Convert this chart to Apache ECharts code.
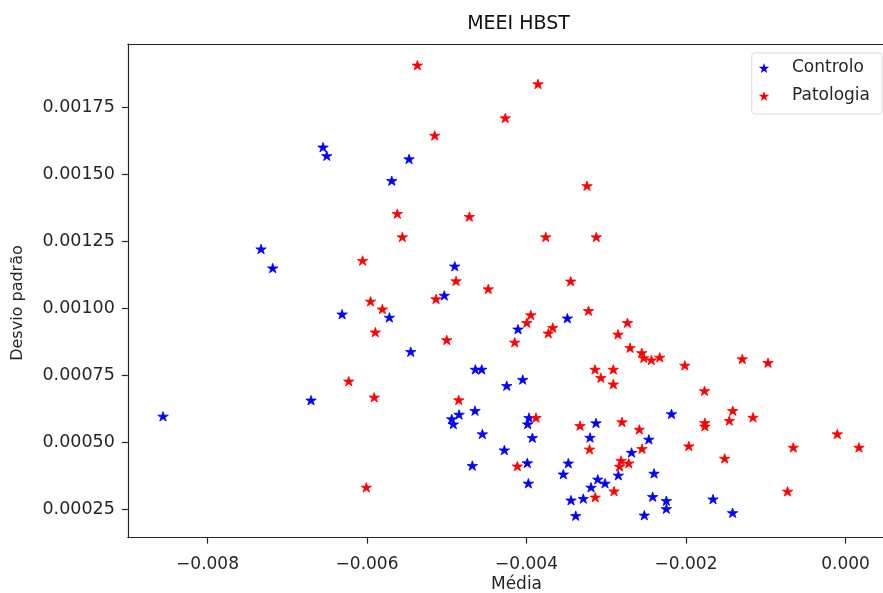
<!DOCTYPE html>
<html>
<head>
<meta charset="utf-8">
<script src="https://cdn.jsdelivr.net/npm/echarts@6/dist/echarts.min.js"></script>
<style>
html,body{margin:0;padding:0;background:#fff;}
#chart{width:883px;height:593px;}
</style>
</head>
<body>
<div id="chart"></div>
<script>
// ---- data ----
const controloMedia = [-0.008558,-0.007329,-0.007183,-0.006552,-0.006505,-0.006313,-0.006702,-0.005720,-0.005690,-0.005473,
  -0.005452,-0.005031,-0.004900,-0.004846,-0.004938,-0.004918,-0.004646,-0.004642,-0.004562,-0.004554,
  -0.004680,-0.004278,-0.004248,-0.004107,-0.004048,-0.003969,-0.003985,-0.003927,-0.003990,-0.003977,
  -0.003488,-0.003476,-0.003539,-0.003442,-0.003383,-0.003288,-0.003204,-0.003191,-0.003129,-0.003107,
  -0.003016,-0.002849,-0.002683,-0.002466,-0.002401,-0.002418,-0.002523,-0.002247,-0.002247,-0.002182,
  -0.001661,-0.001416];
const controloDesvio = [0.000596,0.001220,0.001149,0.001600,0.001568,0.000977,0.000656,0.000965,0.001475,0.001556,
  0.000837,0.001047,0.001156,0.000603,0.000586,0.000567,0.000617,0.000771,0.000771,0.000530,
  0.000412,0.000470,0.000710,0.000921,0.000733,0.000591,0.000567,0.000516,0.000422,0.000346,
  0.000962,0.000421,0.000380,0.000283,0.000225,0.000289,0.000517,0.000331,0.000571,0.000361,
  0.000346,0.000376,0.000461,0.000510,0.000383,0.000296,0.000227,0.000281,0.000251,0.000605,
  0.000287,0.000236];
const patologiaMedia = [-0.005369,-0.003856,-0.004266,-0.005151,-0.003241,-0.005620,-0.004717,-0.005557,-0.003759,-0.003125,
  -0.006056,-0.004884,-0.004480,-0.003446,-0.005956,-0.005135,-0.005808,-0.003223,-0.003947,-0.003997,
  -0.003671,-0.003727,-0.005896,-0.005001,-0.004148,-0.002853,-0.002734,-0.002702,-0.002555,-0.002530,
  -0.002435,-0.002330,-0.002015,-0.001294,-0.000972,-0.003141,-0.002912,-0.003068,-0.002912,-0.001768,
  -0.006229,-0.005910,-0.004850,-0.003881,-0.003329,-0.002803,-0.002586,-0.001414,-0.001457,-0.001160,
  -0.001764,-0.001764,-0.003210,-0.002552,-0.001965,-0.001515,-0.000655,0.000169,-0.000103,-0.004115,
  -0.002815,-0.002718,-0.002834,-0.006009,-0.002903,-0.003139,-0.000727];
const patologiaDesvio = [0.001906,0.001836,0.001709,0.001644,0.001456,0.001352,0.001341,0.001265,0.001265,0.001265,
  0.001177,0.001101,0.001071,0.001100,0.001025,0.001034,0.000996,0.000990,0.000974,0.000945,
  0.000927,0.000906,0.000910,0.000881,0.000872,0.000902,0.000945,0.000852,0.000833,0.000814,
  0.000806,0.000816,0.000786,0.000810,0.000796,0.000771,0.000771,0.000740,0.000716,0.000691,
  0.000727,0.000667,0.000657,0.000591,0.000561,0.000575,0.000547,0.000617,0.000580,0.000592,
  0.000572,0.000559,0.000473,0.000475,0.000485,0.000439,0.000480,0.000480,0.000530,0.000410,
  0.000431,0.000421,0.000409,0.000331,0.000317,0.000294,0.000316];
const xTicks = [-0.008,-0.006,-0.004,-0.002,0];
const yTicks = [0.00025,0.0005,0.00075,0.001,0.00125,0.0015,0.00175];
const seriesNames = ['Controlo','Patologia'];
const chartTitle = 'MEEI HBST';
const xName = 'Média';
const yName = 'Desvio padrão';

const pair = (xs, ys) => xs.map((x, i) => [x, ys[i]]);
const STAR = 'path://M0,-1 L0.2245,-0.309 L0.9511,-0.309 L0.3633,0.118 L0.5878,0.809 L0,0.382 L-0.5878,0.809 L-0.3633,0.118 L-0.9511,-0.309 L-0.2245,-0.309 Z';
const FONT = 'DejaVu Sans';
const AX = '#262626';

const chart = echarts.init(document.getElementById('chart'), null, {renderer: 'canvas'});
chart.setOption({
  animation: false,
  backgroundColor: '#ffffff',
  grid: {left: 127.8, right: 0, top: 44, bottom: 55.3, containLabel: false},
  xAxis: [{
    type: 'value', min: -0.009, max: 0.00047, position: 'bottom',
    axisLine: {show: true, onZero: false, lineStyle: {color: AX, width: 1.2}},
    axisTick: {show: true, inside: false, length: 6, customValues: xTicks, lineStyle: {color: AX, width: 1.2}},
    axisLabel: {show: true, customValues: xTicks, margin: 18, fontFamily: FONT, fontSize: 17, color: AX,
      formatter: v => v === 0 ? '0.000' : (v < 0 ? '\u2212' : '') + Math.abs(v).toFixed(3)},
    splitLine: {show: false}
  }, {
    type: 'value', min: -0.009, max: 0.00047, position: 'top',
    axisLine: {show: true, onZero: false, lineStyle: {color: AX, width: 1.2}},
    axisTick: {show: false}, axisLabel: {show: false}, splitLine: {show: false}
  }],
  yAxis: {
    type: 'value', min: 0.000143, max: 0.001985,
    axisLine: {show: true, onZero: false, lineStyle: {color: AX, width: 1.2}},
    axisTick: {show: true, inside: false, length: 6, customValues: yTicks, lineStyle: {color: AX, width: 1.2}},
    axisLabel: {show: true, customValues: yTicks, margin: 13, fontFamily: FONT, fontSize: 17.5, color: AX,
      formatter: v => v.toFixed(5)},
    splitLine: {show: false}
  },
  legend: {
    orient: 'vertical', right: 1, top: 53,
    padding: [5, 12, 8, 7], itemGap: 8, itemWidth: 36, itemHeight: 10,
    itemStyle: {borderWidth: 0},
    backgroundColor: 'rgba(255,255,255,0.8)', borderColor: '#dddddd', borderWidth: 1, borderRadius: 3,
    textStyle: {fontFamily: FONT, fontSize: 17, color: AX, lineHeight: 20, padding: [0, 0, 0, 5]},
    data: seriesNames
  },
  graphic: [
    {type: 'text', x: 518.5, y: 24.5, style: {text: chartTitle, fontFamily: FONT, fontSize: 19, fill: '#111', textAlign: 'center', textVerticalAlign: 'middle'}},
    {type: 'text', x: 516.5, y: 585, style: {text: xName, fontFamily: FONT, fontSize: 17, fill: AX, textAlign: 'center', textVerticalAlign: 'middle'}},
    {type: 'text', x: 18, y: 303, rotation: Math.PI / 2, style: {text: yName, fontFamily: FONT, fontSize: 16, fill: AX, textAlign: 'center', textVerticalAlign: 'middle'}}
  ],
  series: [{
    name: seriesNames[0], type: 'scatter', data: pair(controloMedia, controloDesvio),
    symbol: STAR, symbolSize: [10.5, 10], symbolKeepAspect: true,
    itemStyle: {color: '#0000ff', borderColor: '#0000ff', borderWidth: 0.8, opacity: 1}
  }, {
    name: seriesNames[1], type: 'scatter', data: pair(patologiaMedia, patologiaDesvio),
    symbol: STAR, symbolSize: [10.5, 10], symbolKeepAspect: true,
    itemStyle: {color: '#ff0000', borderColor: '#ff0000', borderWidth: 0.8, opacity: 1}
  }]
});
</script>
</body>
</html>
